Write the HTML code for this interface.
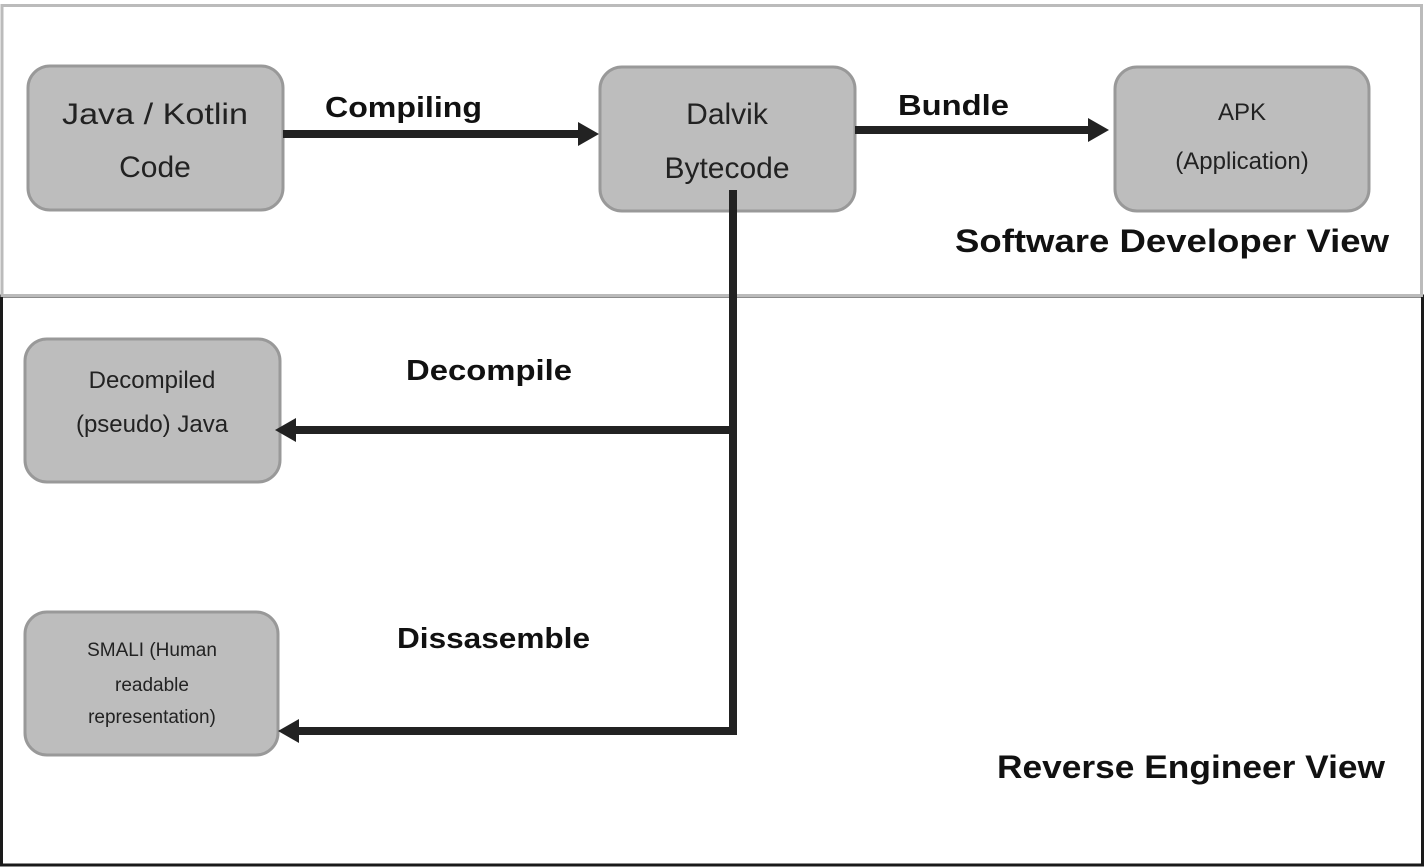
<!DOCTYPE html>
<html><head><style>html,body{margin:0;padding:0;background:#fff}svg{display:block}</style></head>
<body>
<svg width="1425" height="867" viewBox="0 0 1425 867" xmlns="http://www.w3.org/2000/svg" font-family="Liberation Sans, sans-serif">
<rect x="1.5" y="296" width="1421" height="569" fill="none" stroke="#1a1a1a" stroke-width="3"/>
<rect x="2" y="5.5" width="1419.5" height="290" fill="#fff" stroke="#bbb" stroke-width="3"/>
<g fill="#bdbdbd" stroke="#999" stroke-width="3">
<rect x="28" y="66" width="255" height="144" rx="22"/>
<rect x="600" y="67" width="255" height="144" rx="22"/>
<rect x="1115" y="67" width="254" height="144" rx="22"/>
<rect x="25" y="339" width="255" height="143" rx="22"/>
<rect x="25" y="612" width="253" height="143" rx="22"/>
</g>
<g stroke="#222" stroke-width="8" fill="none">
<line x1="283" y1="134" x2="580" y2="134"/>
<line x1="855" y1="130" x2="1090" y2="130"/>
<polyline points="733,190 733,731 295,731"/>
<line x1="733" y1="430" x2="295" y2="430"/>
</g>
<g fill="#222">
<polygon points="578,122 599,134 578,146"/>
<polygon points="1088,118 1109,130 1088,142"/>
<polygon points="296,418 275,430 296,442"/>
<polygon points="299,719 278,731 299,743"/>
</g>
<g font-size="30" fill="#222" text-anchor="middle">
<text x="155" y="124" textLength="186" lengthAdjust="spacingAndGlyphs">Java / Kotlin</text>
<text x="155" y="177">Code</text>
<text x="727" y="124">Dalvik</text>
<text x="727" y="178">Bytecode</text>
</g>
<g font-size="24" fill="#222" text-anchor="middle">
<text x="1242" y="120">APK</text>
<text x="1242" y="169">(Application)</text>
<text x="152" y="388">Decompiled</text>
<text x="152" y="432">(pseudo) Java</text>
</g>
<g font-size="19" fill="#222" text-anchor="middle">
<text x="152" y="656">SMALI (Human</text>
<text x="152" y="691">readable</text>
<text x="152" y="723">representation)</text>
</g>
<g font-size="29" font-weight="bold" fill="#111">
<text x="325" y="117" textLength="157" lengthAdjust="spacingAndGlyphs">Compiling</text>
<text x="898" y="115" textLength="111" lengthAdjust="spacingAndGlyphs">Bundle</text>
<text x="406" y="380" textLength="166" lengthAdjust="spacingAndGlyphs">Decompile</text>
<text x="397" y="648" textLength="193" lengthAdjust="spacingAndGlyphs">Dissasemble</text>
<text x="955" y="252" font-size="32" textLength="434" lengthAdjust="spacingAndGlyphs">Software Developer View</text>
<text x="997" y="778" font-size="32" textLength="388" lengthAdjust="spacingAndGlyphs">Reverse Engineer View</text>
</g>
</svg>
</body></html>
